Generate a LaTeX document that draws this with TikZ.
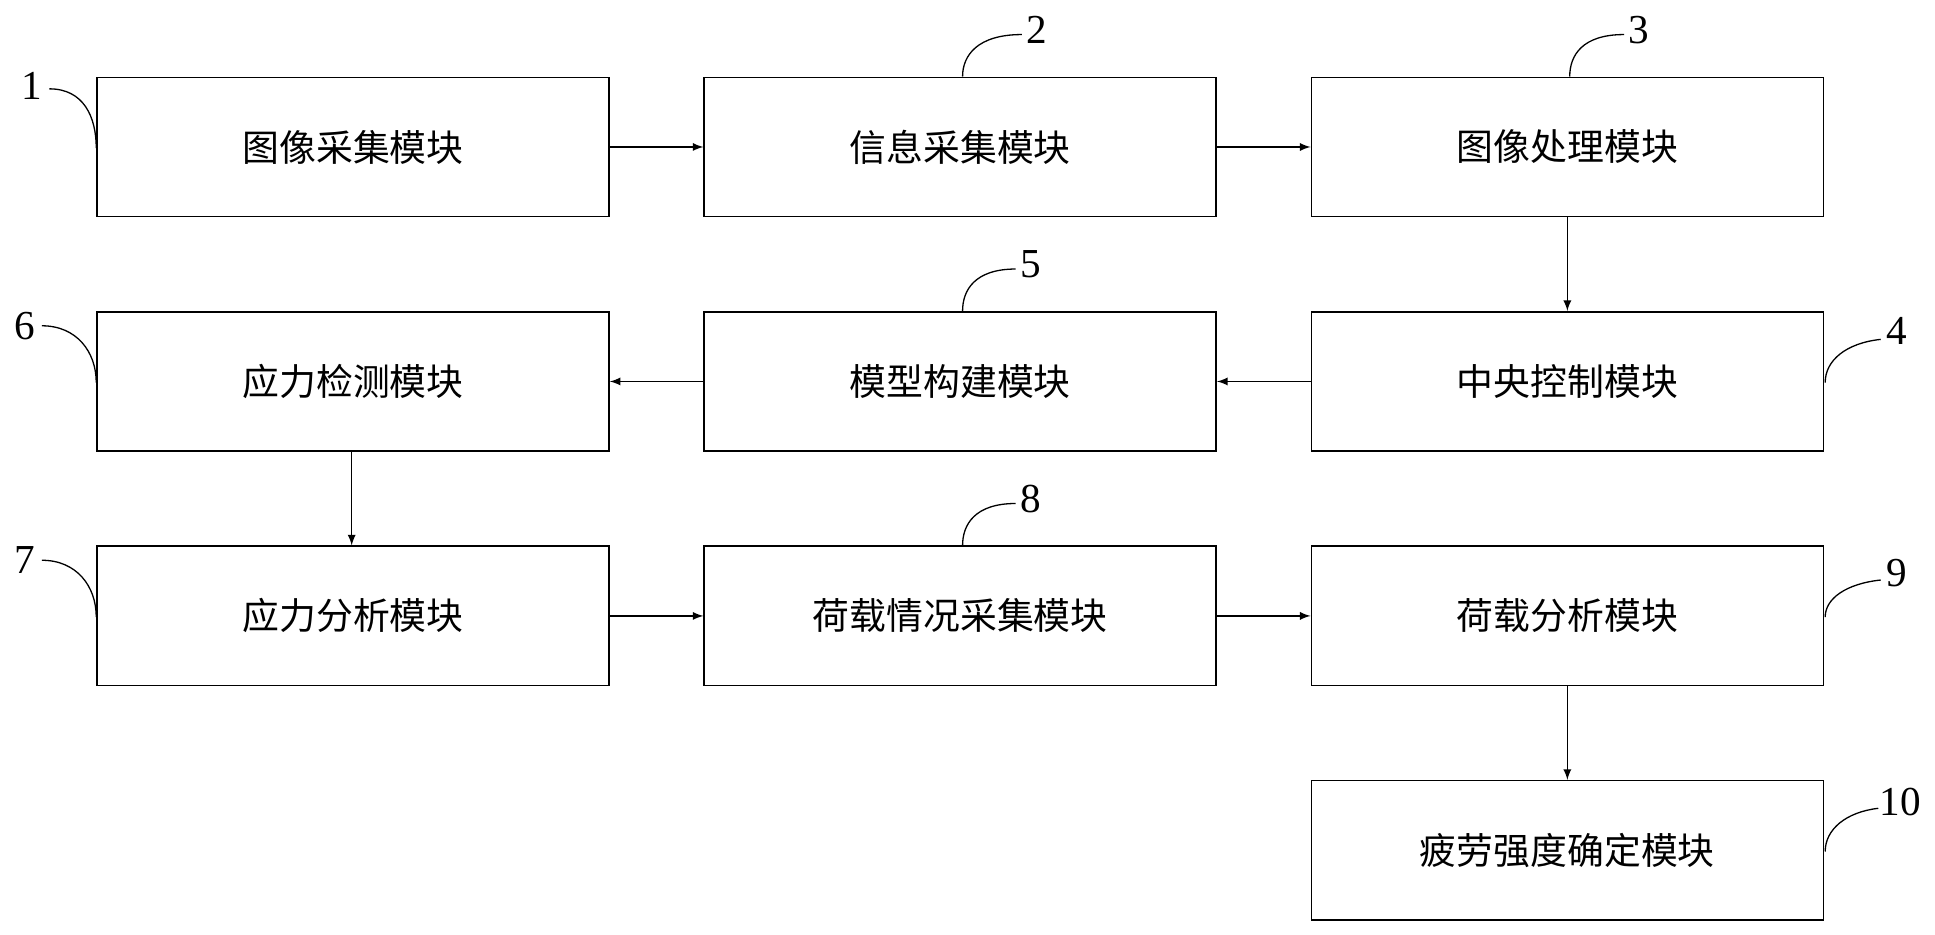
\documentclass[tikz,border=0pt]{standalone}
\usepackage{fontspec}
\setmainfont{Liberation Serif}
\newfontfamily\cjk{Noto Sans CJK SC}
\begin{document}
\begin{tikzpicture}[x=0.02cm,y=-0.02cm,
  box/.style={draw,line width=0.7pt,minimum width=8.3cm,minimum height=2.26cm,inner sep=0pt,font=\cjk\fontsize{17}{20}\selectfont,anchor=north west},
  arr/.style={-latex,line width=0.7pt},
  lead/.style={line width=0.6pt},
  num/.style={font=\fontsize{19}{22}\selectfont}]
\useasboundingbox (0,0) rectangle (1568,757);
\node[box] (b1) at (78,62) {图像采集模块};
\node[box] (b2) at (570,62) {信息采集模块};
\node[box] (b3) at (1062,62) {图像处理模块};
\node[box] (b4) at (1062,252) {中央控制模块};
\node[box] (b5) at (570,252) {模型构建模块};
\node[box] (b6) at (78,252) {应力检测模块};
\node[box] (b7) at (78,442) {应力分析模块};
\node[box] (b8) at (570,442) {荷载情况采集模块};
\node[box] (b9) at (1062,442) {荷载分析模块};
\node[box] (b10) at (1062,632) {疲劳强度确定模块};
\draw[arr] (b1) -- (b2);
\draw[arr] (b2) -- (b3);
\draw[arr] (b3) -- (b4);
\draw[arr] (b4) -- (b5);
\draw[arr] (b5) -- (b6);
\draw[arr] (b6.south -| 285,0) coordinate (c6) -- (b7.north -| c6);
\draw[arr] (b7) -- (b8);
\draw[arr] (b8) -- (b9);
\draw[arr] (b9) -- (b10);
% labels
\node[num] (n1) at (26,70) {1};
\draw[lead] (40,72) .. controls (68,72) and (78,95) .. (78,120);
\node[num] (n2) at (840,24) {2};
\draw[lead] (828,28) .. controls (792,28) and (780,45) .. (780,62);
\node[num] (n3) at (1328,24) {3};
\draw[lead] (1316,28) .. controls (1282,28) and (1272,45) .. (1272,62);
\node[num] (n5) at (835,214) {5};
\draw[lead] (823,218) .. controls (790,218) and (780,235) .. (780,252);
\node[num] (n8) at (835,404) {8};
\draw[lead] (823,408) .. controls (790,408) and (780,425) .. (780,442);
\node[num] (n6) at (20,264) {6};
\draw[lead] (34,264) .. controls (62,264) and (78,285) .. (78,310);
\node[num] (n7) at (20,454) {7};
\draw[lead] (34,454) .. controls (62,454) and (78,475) .. (78,500);
\node[num] (n4) at (1537,268) {4};
\draw[lead] (1524,275) .. controls (1496,278) and (1479,292) .. (1479,310);
\node[num] (n9) at (1537,464) {9};
\draw[lead] (1524,470) .. controls (1496,473) and (1479,485) .. (1479,500);
\node[num] (n10) at (1540,650) {10};
\draw[lead] (1522,655) .. controls (1496,658) and (1479,672) .. (1479,690);
\end{tikzpicture}
\end{document}
